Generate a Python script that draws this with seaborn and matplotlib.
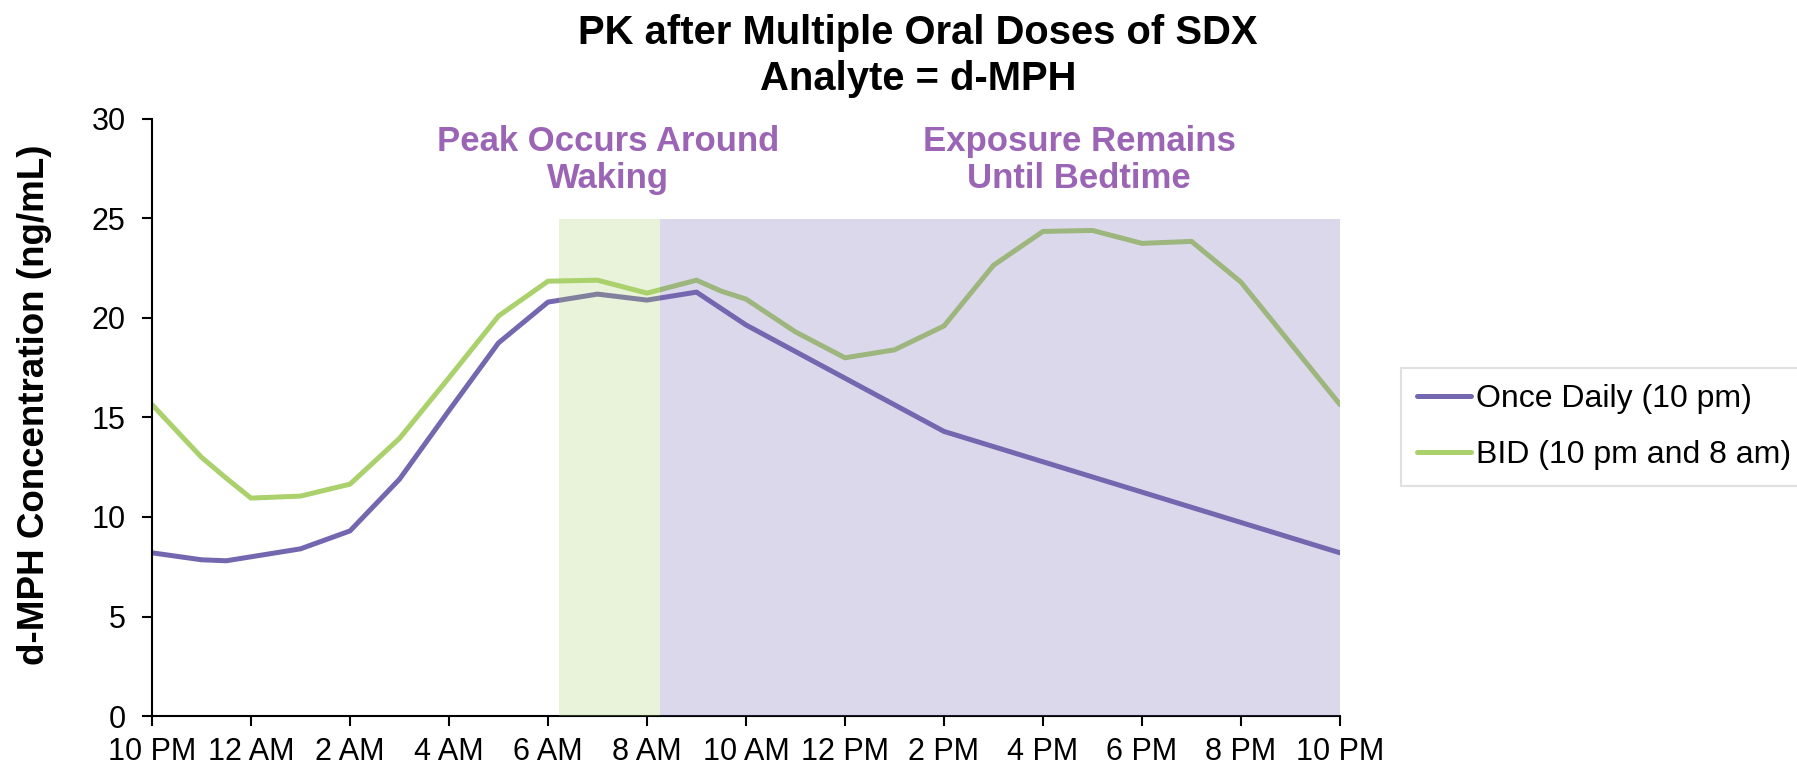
import matplotlib
matplotlib.use('Agg')
import matplotlib.pyplot as plt
import pandas as pd
import seaborn as sns

# hours after the 10 PM dose
hours_qd = [0, 1, 1.5, 2, 3, 4, 5, 6, 7, 8, 9, 10, 11, 12, 16, 24]
conc_qd = [8.2, 7.85, 7.8, 8.0, 8.4, 9.3, 11.9, 15.35, 18.75, 20.8, 21.2, 20.9,
           21.3, 19.65, 14.3, 8.2]
hours_bid = [0, 1, 1.5, 2, 3, 4, 5, 6, 7, 8, 9, 10, 11, 11.5, 12, 13, 14, 15, 16,
             17, 18, 19, 20, 21, 22, 24]
conc_bid = [15.65, 13.0, 11.95, 10.95, 11.05, 11.65, 13.95, 17.0, 20.1, 21.85,
            21.9, 21.25, 21.9, 21.35, 20.95, 19.3, 18.0, 18.4, 19.6, 22.65, 24.35,
            24.4, 23.75, 23.85, 21.8, 15.65]
regimens = ['Once Daily (10 pm)', 'BID (10 pm and 8 am)']
tick_hours = list(range(0, 25, 2))
tick_labels = ['10 PM', '12 AM', '2 AM', '4 AM', '6 AM', '8 AM', '10 AM', '12 PM',
               '2 PM', '4 PM', '6 PM', '8 PM', '10 PM']

PURPLE = '#7467B0'
GREEN = '#AAD16C'
TXT = '#9B64B5'


def main():
    df = pd.concat([
        pd.DataFrame({'hour': hours_qd, 'conc': conc_qd, 'regimen': regimens[0]}),
        pd.DataFrame({'hour': hours_bid, 'conc': conc_bid, 'regimen': regimens[1]}),
    ])

    sns.set_theme(style='white')
    plt.rcParams['font.family'] = ['Liberation Sans', 'DejaVu Sans']
    plt.rcParams['text.color'] = 'black'
    plt.rcParams['axes.labelcolor'] = 'black'
    plt.rcParams['xtick.color'] = 'black'
    plt.rcParams['ytick.color'] = 'black'

    fig = plt.figure(figsize=(17.97, 7.69), dpi=100)
    ax = fig.add_axes([152 / 1797, 53 / 769, 1188 / 1797, 597 / 769])

    sns.lineplot(data=df, x='hour', y='conc', hue='regimen', hue_order=regimens,
                 palette={regimens[0]: PURPLE, regimens[1]: GREEN},
                 linewidth=3.6, ax=ax, sort=False, estimator=None)

    # shaded windows drawn over the lines
    ax.fill_between([8.22, 10.26], 0, 25, color=GREEN, alpha=0.25, lw=0, zorder=5)
    ax.fill_between([10.26, 24], 0, 25, color=PURPLE, alpha=0.25, lw=0, zorder=5)

    ax.set_xlim(0, 24)
    ax.set_ylim(0, 30)
    ax.set_xticks(tick_hours)
    ax.set_xticklabels(tick_labels)
    ax.set_yticks(range(0, 31, 5))
    ax.tick_params(axis='both', labelsize=22, length=7, width=1.5, color='black',
                   labelcolor='black', direction='out', bottom=True, left=True)
    ax.tick_params(axis='x', pad=8)
    ax.tick_params(axis='y', pad=12)
    for s in ['top', 'right']:
        ax.spines[s].set_visible(False)
    for s in ['left', 'bottom']:
        ax.spines[s].set_color('black')
        ax.spines[s].set_linewidth(1.5)
    ax.set_xlabel('')
    ax.set_ylabel('d-MPH Concentration (ng/mL)', fontsize=26.5, fontweight='bold')
    ax.yaxis.set_label_coords(-0.0842, 0.521)

    ax.text(9.22, 29.7, 'Peak Occurs Around\nWaking', ha='center', va='top',
            fontsize=25, fontweight='bold', color=TXT, linespacing=1.15)
    ax.text(18.73, 29.7, 'Exposure Remains\nUntil Bedtime', ha='center', va='top',
            fontsize=25, fontweight='bold', color=TXT, linespacing=1.15)

    fig.text(918 / 1797, 1 - 14 / 769, 'PK after Multiple Oral Doses of SDX\nAnalyte = d-MPH',
             ha='center', va='top', fontsize=28.8, fontweight='bold', linespacing=1.25)

    handles, labels = ax.get_legend_handles_labels()
    leg = ax.legend(handles, labels, loc='upper left',
                    bbox_to_anchor=(1401 / 1797, 1 - 368 / 769),
                    bbox_transform=fig.transFigure, borderaxespad=0,
                    fontsize=23, frameon=True, fancybox=False,
                    handlelength=1.7, handletextpad=0.15, labelspacing=0.82,
                    borderpad=0.5)
    leg.get_frame().set_edgecolor('#D9D9D9')
    leg.get_frame().set_linewidth(1.5)

    fig.savefig('out.png', dpi=100)
    plt.close(fig)


if __name__ == '__main__':
    main()
